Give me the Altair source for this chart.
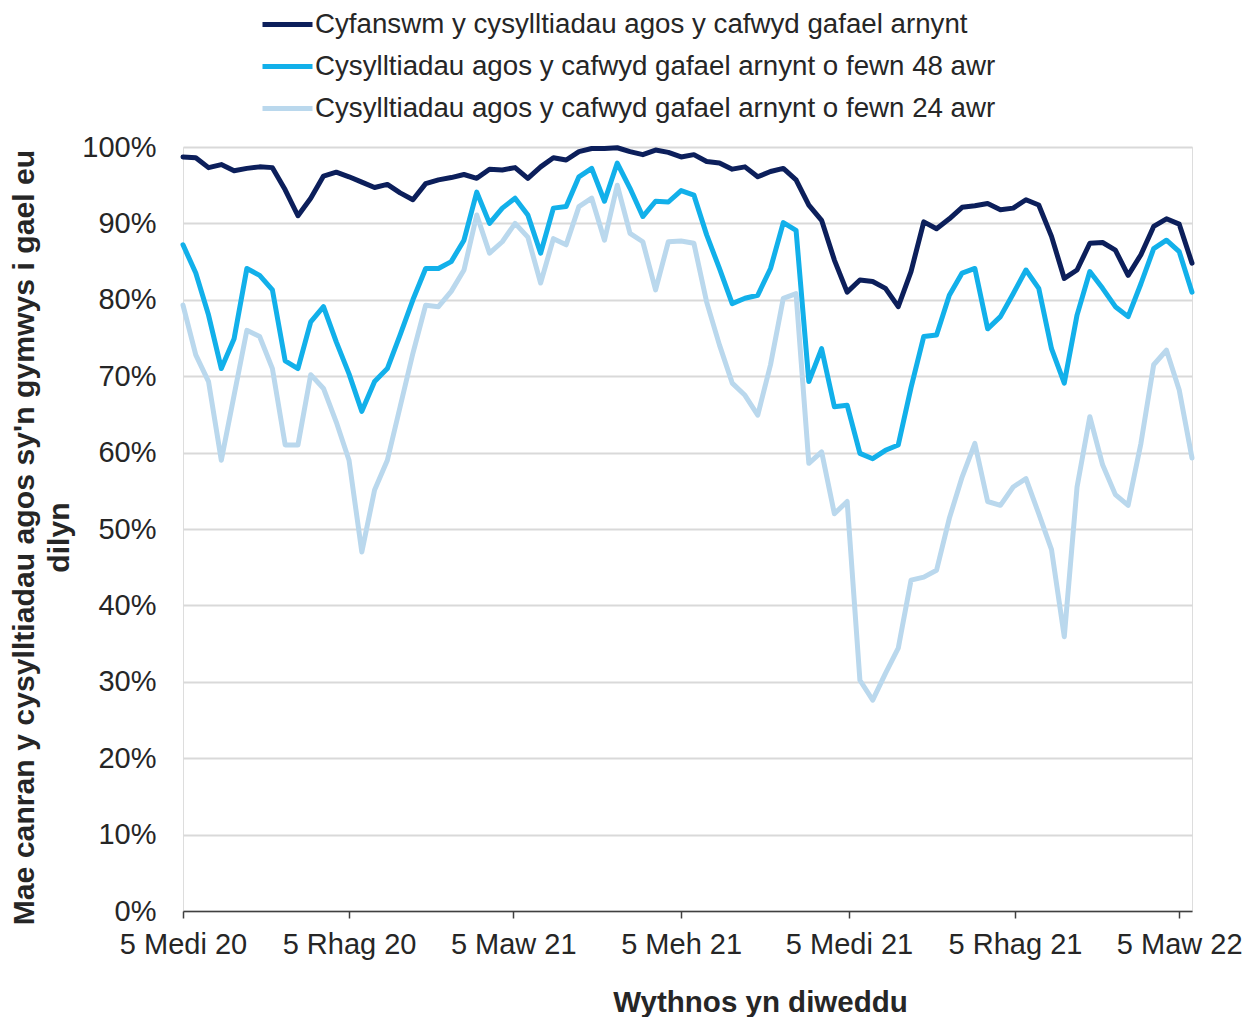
import altair as alt
import pandas as pd

series_names = [
    "Cyfanswm y cysylltiadau agos y cafwyd gafael arnynt",
    "Cysylltiadau agos y cafwyd gafael arnynt o fewn 48 awr",
    "Cysylltiadau agos y cafwyd gafael arnynt o fewn 24 awr",
]
series_colors = ["#0c1f5b", "#12b0ea", "#bad8ed"]

start_date = "2020-09-05"
n_weeks = 80

total = [98.7, 98.6, 97.3, 97.7, 96.9, 97.2, 97.4, 97.3, 94.4, 91.0,
         93.3, 96.2, 96.7, 96.1, 95.4, 94.7, 95.1, 94.0, 93.1, 95.2,
         95.7, 96.0, 96.4, 95.9, 97.1, 97.0, 97.3, 95.9, 97.4, 98.6,
         98.3, 99.4, 99.8, 99.8, 99.9, 99.4, 99.0, 99.6, 99.3, 98.7,
         99.0, 98.1, 97.9, 97.1, 97.4, 96.1, 96.8, 97.2, 95.7, 92.4,
         90.4, 85.2, 81.0, 82.6, 82.4, 81.5, 79.1, 83.7, 90.2, 89.3,
         90.6, 92.1, 92.3, 92.6, 91.8, 92.0, 93.1, 92.4, 88.3, 82.8,
         83.9, 87.4, 87.5, 86.5, 83.2, 85.9, 89.6, 90.6, 89.9, 84.8]

within48 = [87.2, 83.5, 78.0, 71.0, 74.9, 84.1, 83.2, 81.3, 72.0, 71.0,
            77.1, 79.1, 74.5, 70.3, 65.4, 69.3, 71.0, 75.4, 80.0, 84.1,
            84.1, 85.0, 87.8, 94.1, 90.0, 92.0, 93.3, 91.1, 86.1, 92.0,
            92.2, 96.1, 97.2, 92.9, 97.9, 94.6, 90.9, 92.9, 92.8, 94.3,
            93.7, 88.5, 84.1, 79.5, 80.2, 80.6, 84.1, 90.1, 89.1, 69.3,
            73.6, 66.0, 66.2, 59.9, 59.2, 60.3, 61.0, 68.5, 75.2, 75.4,
            80.6, 83.5, 84.1, 76.2, 77.8, 80.8, 83.9, 81.5, 73.6, 69.1,
            78.0, 83.7, 81.5, 79.1, 77.8, 82.1, 86.7, 87.8, 86.3, 81.0]

within24 = [79.3, 72.8, 69.3, 59.0, 67.5, 76.0, 75.2, 71.0, 61.0, 61.0,
            70.2, 68.4, 64.0, 59.0, 47.0, 55.1, 59.0, 66.0, 73.0, 79.3,
            79.1, 81.1, 83.9, 91.1, 86.1, 87.6, 90.0, 88.2, 82.2, 88.0,
            87.2, 92.2, 93.3, 87.8, 95.0, 88.7, 87.6, 81.3, 87.6, 87.7,
            87.4, 79.7, 74.1, 69.1, 67.5, 64.9, 71.5, 80.2, 80.8, 58.6,
            60.1, 52.0, 53.6, 30.2, 27.6, 31.1, 34.4, 43.3, 43.7, 44.6,
            51.4, 56.8, 61.2, 53.6, 53.1, 55.5, 56.6, 52.0, 47.3, 35.9,
            55.5, 64.7, 58.4, 54.5, 53.1, 61.2, 71.5, 73.4, 68.2, 59.3]

tick_dates = ["2020-09-05", "2020-12-05", "2021-03-05", "2021-06-05",
              "2021-09-05", "2021-12-05", "2022-03-05"]
tick_labels = ["5 Medi 20", "5 Rhag 20", "5 Maw 21", "5 Meh 21",
               "5 Medi 21", "5 Rhag 21", "5 Maw 22"]

y_title = ["Mae canran y cysylltiadau agos sy'n gymwys i gael eu", "dilyn"]
x_title = "Wythnos yn diweddu"

dates = pd.date_range(start_date, periods=n_weeks, freq="7D")
rows = []
for name, vals in zip(series_names, [total, within48, within24]):
    for d, v in zip(dates, vals):
        rows.append({"date": d.strftime("%Y-%m-%d"), "value": v / 100.0, "series": name})
df = pd.DataFrame(rows)

def dt(s):
    y, m, d = (int(p) for p in s.split("-"))
    return alt.DateTime(year=y, month=m, date=d, utc=True)

label_expr = (
    "[" + ",".join("'" + l + "'" for l in tick_labels) + "]"
    + "[indexof([" + ",".join("'" + d + "'" for d in tick_dates) + "], "
    + "utcFormat(datum.value, '%Y-%m-%d'))]"
)

font = "Liberation Sans"

chart = alt.Chart(df).mark_line(strokeWidth=5, strokeJoin="round", strokeCap="round").encode(
    x=alt.X(
        "date:T",
        scale=alt.Scale(type="utc", domain=[dt(start_date), dt(dates[-1].strftime("%Y-%m-%d"))]),
        axis=alt.Axis(
            values=[dt(d) for d in tick_dates],
            labelExpr=label_expr,
            title=x_title,
            grid=False,
            domainColor="#404040",
            domainWidth=1.5,
            tickColor="#404040",
            tickWidth=1.5,
            tickSize=7,
            labelPadding=12,
            labelFont=font,
            labelFontSize=29,
            labelColor="#262626",
            labelFlush=False,
            labelOverlap=False,
            titleFont=font,
            titleFontSize=29.5,
            titleFontWeight="bold",
            titleColor="#262626",
            titleX=577,
            titlePadding=29,
        ),
    ),
    y=alt.Y(
        "value:Q",
        scale=alt.Scale(domain=[0, 1], nice=False),
        axis=alt.Axis(
            values=[i / 10 for i in range(11)],
            format=".0%",
            title=y_title,
            domain=False,
            ticks=False,
            gridColor="#d9d9d9",
            gridWidth=2,
            labelPadding=27,
            labelFont=font,
            labelFontSize=29,
            labelColor="#262626",
            titleFont=font,
            titleFontSize=30.2,
            titleFontWeight="bold",
            titleColor="#262626",
            titleLineHeight=35,
            titlePadding=7,
            titleY=390,
        ),
    ),
    color=alt.Color(
        "series:N",
        scale=alt.Scale(domain=series_names, range=series_colors),
        sort=series_names,
        legend=alt.Legend(
            orient="none",
            legendX=77,
            legendY=-150,
            title=None,
            symbolType="stroke",
            symbolSize=2500,
            symbolStrokeWidth=5,
            labelFont=font,
            labelFontSize=27.7,
            labelColor="#262626",
            labelOffset=0,
            rowPadding=0,
            labelLimit=900,
        ),
    ),
    order=alt.Order("series:N"),
).properties(
    width=1009,
    height=764,
    autosize=alt.AutoSizeParams(type="none"),
    padding={"left": 175, "top": 139, "right": 54, "bottom": 106},
).configure_view(strokeWidth=0).configure(background="white")

chart.save("out.html", embed_options={"renderer": "svg", "actions": False})
